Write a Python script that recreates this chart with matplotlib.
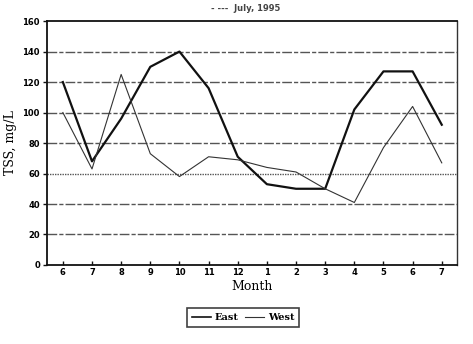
import matplotlib
matplotlib.use("Agg")
import matplotlib.pyplot as plt
from matplotlib.lines import Line2D

months = ["6", "7", "8", "9", "10", "11", "12", "1", "2", "3", "4", "5", "6", "7"]
east = [120, 68, 96, 130, 140, 116, 71, 53, 50, 50, 102, 127, 127, 92]
west = [100, 63, 125, 73, 58, 71, 69, 64, 61, 50, 41, 77, 104, 67]
yticks = [0, 20, 40, 60, 80, 100, 120, 140, 160]

fig = plt.figure(figsize=(4.73, 3.44), dpi=100)
ax = fig.add_axes([0.099, 0.2297, 0.867, 0.709])

x = list(range(len(months)))
for yv in yticks[1:-1]:
    ls = (0, (1, 0.8)) if yv == 60 else (0, (7, 1.5, 3, 1.5))
    ax.axhline(yv, color="#555555", lw=1.0, ls=ls, zorder=1)

ax.plot(x, east, color="#111111", lw=1.6, zorder=3)
ax.plot(x, west, color="#333333", lw=0.8, zorder=3)

ax.set_xlim(-0.55, 13.52)
ax.set_ylim(0, 160)
ax.set_xticks(x)
ax.set_xticklabels(months, fontsize=6, fontweight="bold", family="DejaVu Sans")
ax.set_yticks(yticks)
ax.set_yticklabels([str(v) for v in yticks], fontsize=6, fontweight="bold", family="DejaVu Sans")
ax.tick_params(axis="both", length=3, width=1, pad=2, color="#111111")
ax.tick_params(axis="x", direction="in")
for s in ["left", "bottom", "top"]:
    ax.spines[s].set_linewidth(1.3)
    ax.spines[s].set_color("#111111")
ax.spines["right"].set_linewidth(1.0)
ax.spines["right"].set_linestyle((0, (2, 1)))
ax.spines["right"].set_color("#333333")

ax.set_xlabel("Month", fontsize=9, family="DejaVu Serif", labelpad=2)
ax.set_ylabel("TSS, mg/L", fontsize=9, family="DejaVu Serif", labelpad=4)

fig.text(0.52, 0.975, "- ---  July, 1995", ha="center", va="center",
         fontsize=6, color="#444444", family="DejaVu Sans", fontweight="bold")

handles = [Line2D([0], [0], color="#111111", lw=1.2),
           Line2D([0], [0], color="#333333", lw=0.8)]
leg = fig.legend(handles, ["East", "West"], loc="center", bbox_to_anchor=(0.514, 0.076),
                 ncol=2, frameon=True, fancybox=False, handlelength=2.0,
                 columnspacing=0.6, handletextpad=0.4, borderpad=0.5,
                 prop={"family": "DejaVu Serif", "weight": "bold", "size": 7})
leg.get_frame().set_edgecolor("#111111")
leg.get_frame().set_linewidth(1.2)

fig.savefig("out.png", dpi=100)
